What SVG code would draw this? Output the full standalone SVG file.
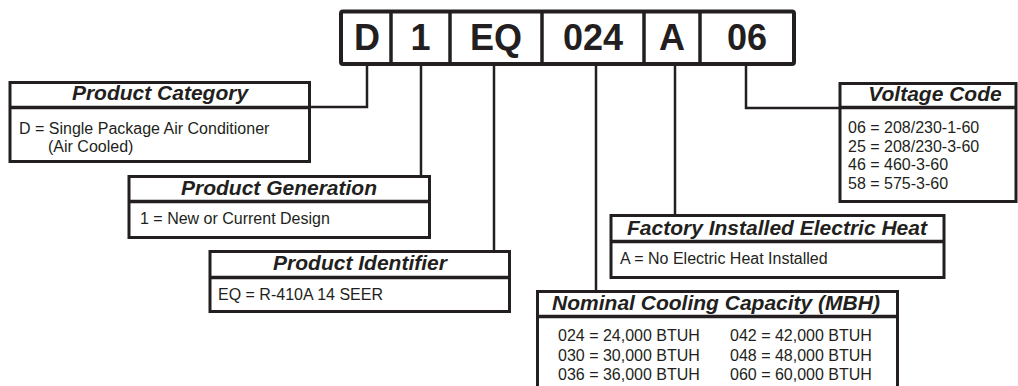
<svg xmlns="http://www.w3.org/2000/svg" width="1018" height="386" viewBox="0 0 1018 386">
<style>
.bx{fill:#fff;stroke:#231f20;stroke-width:3}
.dv{stroke:#231f20;stroke-width:3.5}
.cn{fill:none;stroke:#231f20;stroke-width:2.5}
.hd{font-family:"Liberation Sans",Arial,sans-serif;font-weight:bold;font-style:italic;font-size:21px;fill:#231f20;text-anchor:middle}
.bd{font-family:"Liberation Sans",Arial,sans-serif;font-size:16px;fill:#231f20}
.cd{font-family:"Liberation Sans",Arial,sans-serif;font-weight:bold;font-size:36px;fill:#231f20;text-anchor:middle}
</style>
<rect width="1018" height="386" fill="#fff"/>
<g id="connectors">
<polyline class="cn" points="367,64 367,107 309,107"/>
<line class="cn" x1="421" y1="64" x2="421" y2="176"/>
<line class="cn" x1="494" y1="64" x2="494" y2="251"/>
<line class="cn" x1="596" y1="64" x2="596" y2="291"/>
<line class="cn" x1="675" y1="64" x2="675" y2="215"/>
<polyline class="cn" points="746,64 746,108 840,108"/>
</g>
<g id="code">
<rect x="341" y="11.5" width="453" height="52.5" rx="2" fill="#fff" stroke="#231f20" stroke-width="4"/>
<line class="dv" x1="391" y1="11.5" x2="391" y2="64"/>
<line class="dv" x1="450" y1="11.5" x2="450" y2="64"/>
<line class="dv" x1="542" y1="11.5" x2="542" y2="64"/>
<line class="dv" x1="644" y1="11.5" x2="644" y2="64"/>
<line class="dv" x1="700" y1="11.5" x2="700" y2="64"/>
<text class="cd" x="367" y="50">D</text>
<text class="cd" x="420.5" y="50">1</text>
<text class="cd" x="496" y="50">EQ</text>
<text class="cd" x="593" y="50">024</text>
<text class="cd" x="672" y="50">A</text>
<text class="cd" x="747" y="50">06</text>
</g>
<g id="product-category">
<rect class="bx" x="10" y="82.5" width="299.5" height="79"/>
<line class="dv" x1="10" y1="107.5" x2="309.5" y2="107.5"/>
<text class="hd" x="160" y="100">Product Category</text>
<text class="bd" x="19" y="134">D = Single Package Air Conditioner</text>
<text class="bd" x="48" y="152">(Air Cooled)</text>
</g>
<g id="product-generation">
<rect class="bx" x="129" y="176.5" width="300.5" height="61"/>
<line class="dv" x1="129" y1="201.5" x2="429.5" y2="201.5"/>
<text class="hd" x="279" y="195">Product Generation</text>
<text class="bd" x="140" y="224">1 = New or Current Design</text>
</g>
<g id="product-identifier">
<rect class="bx" x="210" y="251.5" width="299.5" height="60"/>
<line class="dv" x1="210" y1="277.5" x2="509.5" y2="277.5"/>
<text class="hd" x="360" y="270">Product Identifier</text>
<text class="bd" x="218" y="300">EQ = R-410A 14 SEER</text>
</g>
<g id="cooling-capacity">
<rect class="bx" x="537.5" y="291.5" width="360" height="110"/>
<line class="dv" x1="537.5" y1="316.5" x2="897.5" y2="316.5"/>
<text class="hd" x="716" y="310">Nominal Cooling Capacity (MBH)</text>
<text class="bd" x="558" y="341">024 = 24,000 BTUH</text>
<text class="bd" x="558" y="361">030 = 30,000 BTUH</text>
<text class="bd" x="558" y="380">036 = 36,000 BTUH</text>
<text class="bd" x="730" y="341">042 = 42,000 BTUH</text>
<text class="bd" x="730" y="361">048 = 48,000 BTUH</text>
<text class="bd" x="730" y="380">060 = 60,000 BTUH</text>
</g>
<g id="electric-heat">
<rect class="bx" x="611" y="215.5" width="333" height="62"/>
<line class="dv" x1="611" y1="241.5" x2="944" y2="241.5"/>
<text class="hd" x="777" y="235">Factory Installed Electric Heat</text>
<text class="bd" x="620" y="264">A = No Electric Heat Installed</text>
</g>
<g id="voltage-code">
<rect class="bx" x="840" y="83.5" width="176" height="118"/>
<line class="dv" x1="840" y1="107.5" x2="1016" y2="107.5"/>
<text class="hd" x="935" y="101">Voltage Code</text>
<text class="bd" x="848" y="133">06 = 208/230-1-60</text>
<text class="bd" x="848" y="152">25 = 208/230-3-60</text>
<text class="bd" x="848" y="170">46 = 460-3-60</text>
<text class="bd" x="848" y="189">58 = 575-3-60</text>
</g>
</svg>
